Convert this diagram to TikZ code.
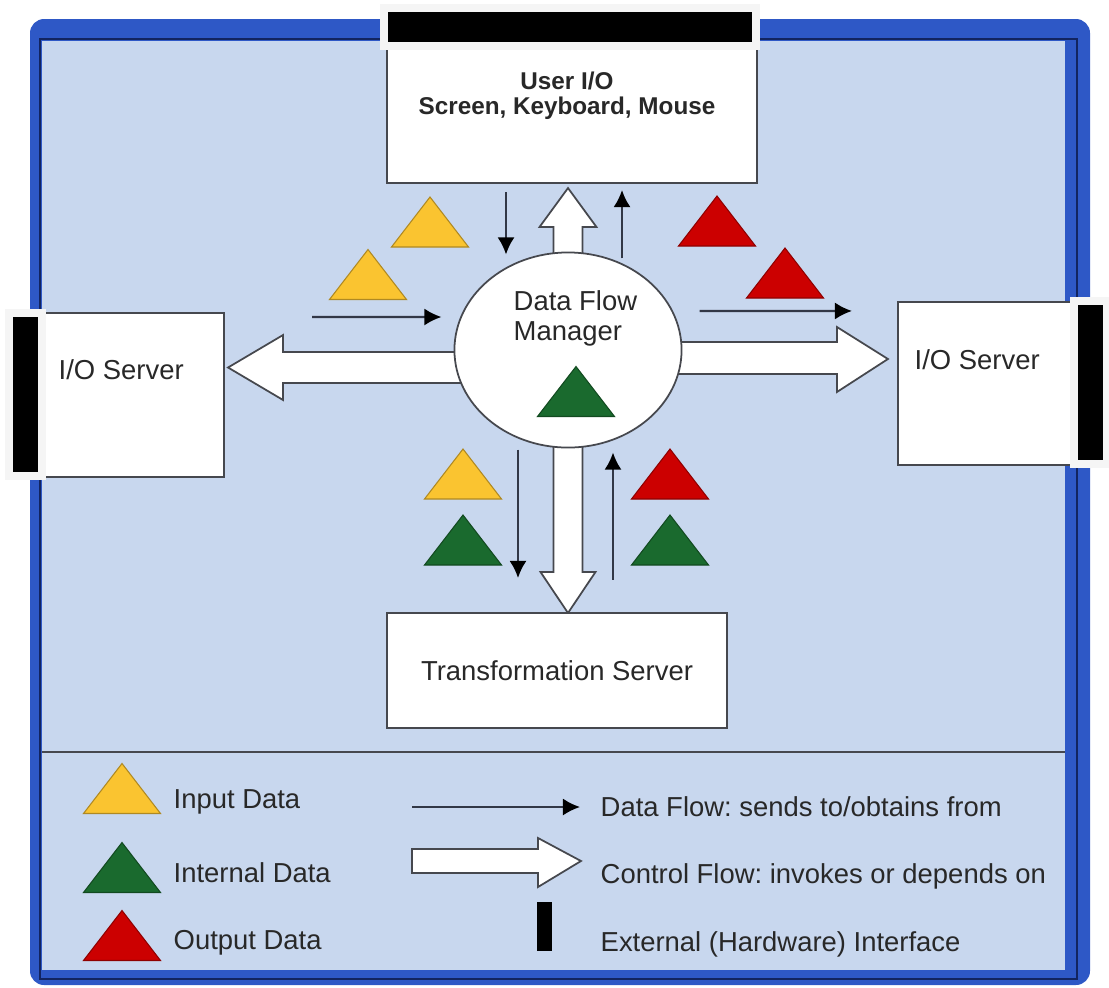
\documentclass[tikz,border=0pt]{standalone}
\usepackage{fontspec}
\setmainfont{Liberation Sans}
\usetikzlibrary{calc,shapes.geometric,arrows.meta,backgrounds}
\pgfdeclarelayer{mid}
\pgfsetlayers{background,mid,main}
\frenchspacing

\definecolor{bgblue}{RGB}{200,215,238}
\definecolor{frameblue}{RGB}{46,88,198}
\definecolor{framedark}{RGB}{18,36,96}
\definecolor{boxline}{RGB}{70,72,78}
\definecolor{flowline}{RGB}{50,55,70}
\definecolor{inyel}{RGB}{250,196,48}
\definecolor{intgrn}{RGB}{26,106,46}
\definecolor{outred}{RGB}{204,0,0}
\definecolor{txt}{RGB}{40,40,40}

\tikzset{
  box/.style={draw=boxline, fill=white, line width=0.5pt, inner sep=0pt, outer sep=0pt},
  lbl/.style={text=txt, inner sep=0pt, font=\fontsize{7.8}{8.5}\selectfont},
  hw/.style={fill=black, draw=gray!8, line width=0.08cm, inner sep=0pt},
  data/.style={draw=flowline, line width=0.6pt, -{Latex[length=0.17cm,width=0.17cm,color=black]}},
  ctrl/.style={draw=boxline, fill=white, line width=0.5pt, line join=miter},
  pics/tri/.style={code={\filldraw[fill=#1, draw=#1!70!black, line width=0.3pt] (-38.5,25) -- (38.5,25) -- (0,-25) -- cycle;}}
}

\begin{document}
\begin{tikzpicture}[x=0.01cm, y=-0.01cm]
    \useasboundingbox (0,0) rectangle (1109,987);
    % frame
    \begin{pgfonlayer}{background}
        \fill[frameblue, rounded corners=4pt] (30,19) rectangle (1090,985);
        \draw[framedark, line width=0.6pt] (40,39) rectangle (1077,979);
        \fill[bgblue] (42,41) rectangle (1065,970);
        \draw[boxline, line width=0.6pt] (42,752) -- (1065,752);
    \end{pgfonlayer}

    % servers and manager
    \node[box, minimum width=3.70cm, minimum height=1.43cm] (usrio) at (572,111.5) {};
    \node[lbl, font=\fontsize{6.9}{7.1}\selectfont\bfseries, align=center] (usrtxt) at (567,95.5) {User I/O\\Screen, Keyboard, Mouse};
    \node[box, minimum width=1.79cm, minimum height=1.64cm] (iosrvL) at (134.5,395) {};
    \node[lbl, anchor=west] (iosrvLtxt) at (58,370) {I/O Server};
    \node[box, minimum width=1.77cm, minimum height=1.63cm] (iosrvR) at (986.5,383.5) {};
    \node[lbl, anchor=west] (iosrvRtxt) at (914,360) {I/O Server};
    \node[box, lbl, minimum width=3.40cm, minimum height=1.15cm] (trans) at (557,670.5) {Transformation Server};
    \node[box, ellipse, minimum width=2.27cm, minimum height=1.95cm] (dfm) at (568,350) {};
    \node[lbl, anchor=west, align=left] (dfmtxt) at (513,318) {Data Flow\\Manager};
    \pic at (576,391.5) {tri=intgrn};

    % hardware interfaces
    \node[hw, minimum width=3.72cm, minimum height=0.38cm] (hwtop) at (570,27) {};
    \node[hw, minimum width=0.33cm, minimum height=1.63cm] (hwleft) at (25.5,394.5) {};
    \node[hw, minimum width=0.33cm, minimum height=1.63cm] (hwright) at (1090.5,382.5) {};

    % control flow
    \begin{pgfonlayer}{mid}
        \draw[ctrl] ($(dfm.center)+(-14.5,0)$) -- ($(dfm.center |- usrio.south)+(-14.5,44)$) -- ++(-14,0)
            -- ($(dfm.center |- usrio.south)+(0,5)$) -- ($(dfm.center |- usrio.south)+(28.5,44)$) -- ++(-14,0)
            -- ($(dfm.center)+(14.5,0)$);
        \draw[ctrl] ($(dfm.center)+(-14.5,0)$) -- ($(dfm.center |- trans.north)+(-14.5,-41)$) -- ++(-13,0)
            -- (dfm.center |- trans.north) -- ($(dfm.center |- trans.north)+(27.5,-41)$) -- ++(-13,0)
            -- ($(dfm.center)+(14.5,0)$);
        \draw[ctrl] ($(dfm.center)+(0,2)$) -- ($(iosrvL.east |- dfm.center)+(59,2)$) -- ++(0,-17)
            -- ($(iosrvL.east |- dfm.center)+(4,17.5)$) -- ($(iosrvL.east |- dfm.center)+(59,50)$) -- ++(0,-17)
            -- ($(dfm.center)+(0,33)$);
        \draw[ctrl] ($(dfm.center)+(0,-8)$) -- ($(iosrvR.west |- dfm.center)+(-61,-8)$) -- ++(0,-15)
            -- ($(iosrvR.west |- dfm.center)+(-10,9)$) -- ($(iosrvR.west |- dfm.center)+(-61,42)$) -- ++(0,-18)
            -- ($(dfm.center)+(0,24)$);
    \end{pgfonlayer}

    % data flow
    \draw[data] ($(usrio.south)+(-66,9)$) -- ($(dfm.north)+(-62,2)$);
    \draw[data] ($(dfm.north)+(54,6)$) -- ($(usrio.south)+(50,7)$);
    \draw[data] ($(iosrvL.north east)+(88,4)$) -- ($(dfm.west)+(-13,-33)$);
    \draw[data] ($(dfm.east)+(18,-39)$) -- ($(iosrvR.north west)+(-46,9)$);
    \draw[data] ($(dfm.south)+(-50,2)$) -- ($(trans.north)+(-39,-35)$);
    \draw[data] ($(trans.north)+(56,-33)$) -- ($(dfm.south)+(45,5)$);

    % data items
    \pic at (430,222) {tri=inyel};
    \pic at (368,274.5) {tri=inyel};
    \pic at (717,221) {tri=outred};
    \pic at (785,273) {tri=outred};
    \pic at (463,474) {tri=inyel};
    \pic at (463,540) {tri=intgrn};
    \pic at (670,474) {tri=outred};
    \pic at (670,540) {tri=intgrn};

    % legend
    \pic at (122,788.5) {tri=inyel};
    \pic at (122,867.5) {tri=intgrn};
    \pic at (122,935.5) {tri=outred};
    \node[lbl, anchor=west] (keyin) at (173,802) {Input Data};
    \node[lbl, anchor=west] (keyint) at (173,873) {Internal Data};
    \node[lbl, anchor=west] (keyout) at (173,943) {Output Data};
    \node[lbl, anchor=west] (keydata) at (600,807) {Data Flow: sends to/obtains from};
    \node[lbl, anchor=west] (keyctrl) at (600,876) {Control Flow: invokes or depends on};
    \node[lbl, anchor=west] (keyhw) at (600,944) {External (Hardware) Interface};
    \draw[data] ($(keydata.west)+(-188,0)$) -- ($(keydata.west)+(-20,0)$);
    \draw[ctrl] ($(keyctrl.west)+(-188,-27)$) -- ++(126,0) -- ++(0,-11) -- ($(keyctrl.west)+(-19,-15)$)
        -- ($(keyctrl.west)+(-62,11)$) -- ++(0,-14) -- ($(keyctrl.west)+(-188,-3)$) -- cycle;
    \node[fill=black, inner sep=0pt, minimum width=0.15cm, minimum height=0.49cm] (hwkey) at (544.5,926.5) {};
\end{tikzpicture}
\end{document}
